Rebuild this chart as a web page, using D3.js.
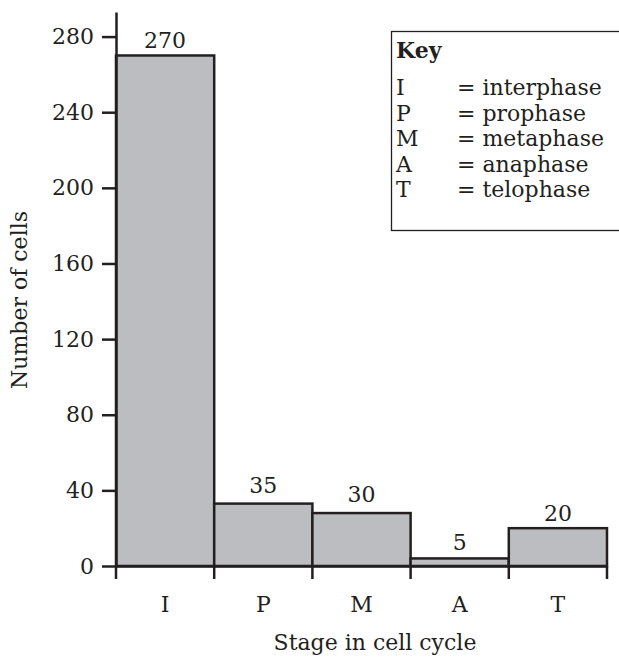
<!DOCTYPE html>
<html>
<head>
<meta charset="utf-8">
<script src="https://cdn.jsdelivr.net/npm/d3@7"></script>
<style>
  html, body { margin: 0; padding: 0; background: #fff; }
  svg { display: block; }
  text { font-family: "DejaVu Serif", "Liberation Serif", serif; fill: #231f20; }
</style>
</head>
<body>
<svg id="chart" width="619" height="660"></svg>
<script>
// ---- data ----
const stages = ["I", "P", "M", "A", "T"];
const countLabels = [270, 35, 30, 5, 20];      // numbers printed above bars
const barHeights = [270, 33, 28, 4, 20];       // bar heights as drawn
const yTicks = [0, 40, 80, 120, 160, 200, 240, 280];
const keyCodes = ["I", "P", "M", "A", "T"];
const keyNames = ["interphase", "prophase", "metaphase", "anaphase", "telophase"];
const xTitle = "Stage in cell cycle";
const yTitle = "Number of cells";

// ---- layout ----
const ink = "#231f20";
const fill = "#bcbdc0";
const fontSize = 22;
const svg = d3.select("#chart");

const x = d3.scaleBand().domain(stages).range([116, 607]).padding(0);
const y = d3.scaleLinear().domain([0, 293]).range([566, 12]);

// bars
svg.append("g").selectAll("rect")
  .data(stages)
  .join("rect")
  .attr("x", d => x(d))
  .attr("y", (d, i) => y(barHeights[i]))
  .attr("width", x.bandwidth())
  .attr("height", (d, i) => y(0) - y(barHeights[i]))
  .attr("fill", fill)
  .attr("stroke", ink)
  .attr("stroke-width", 2.5);

// bar value labels
svg.append("g").selectAll("text")
  .data(stages)
  .join("text")
  .attr("x", d => x(d) + x.bandwidth() / 2)
  .attr("y", (d, i) => y(countLabels[i]) - 7)
  .attr("text-anchor", "middle")
  .attr("font-size", fontSize)
  .text((d, i) => countLabels[i]);

// y axis
const yAxis = d3.axisLeft(y).tickValues(yTicks).tickSize(14).tickPadding(8).tickSizeOuter(0);
const gy = svg.append("g").attr("transform", "translate(116,0)").call(yAxis);
gy.select(".domain").attr("stroke", ink).attr("stroke-width", 2.5);
gy.selectAll(".tick line").attr("stroke", ink).attr("stroke-width", 2.5);
gy.selectAll(".tick text").attr("font-size", fontSize).attr("font-family", "DejaVu Serif").attr("fill", ink);

// x axis (labels at band centres)
const xAxis = d3.axisBottom(x).tickSize(0).tickPadding(30).tickSizeOuter(0);
const gx = svg.append("g").attr("transform", `translate(0,${y(0)})`).call(xAxis);
gx.select(".domain").attr("stroke", ink).attr("stroke-width", 2.5);
gx.selectAll(".tick text").attr("font-size", fontSize).attr("font-family", "DejaVu Serif").attr("fill", ink);

// x boundary ticks
const bounds = stages.map(d => x(d)).concat([x(stages[stages.length - 1]) + x.bandwidth()]);
svg.append("g").selectAll("line")
  .data(bounds)
  .join("line")
  .attr("x1", d => d).attr("x2", d => d)
  .attr("y1", y(0)).attr("y2", y(0) + 13)
  .attr("stroke", ink).attr("stroke-width", 2.5);

// axis titles
svg.append("text")
  .attr("x", 375).attr("y", 650)
  .attr("text-anchor", "middle")
  .attr("font-size", fontSize)
  .text(xTitle);

svg.append("text")
  .attr("transform", "translate(27,300) rotate(-90)")
  .attr("text-anchor", "middle")
  .attr("font-size", fontSize)
  .text(yTitle);

// key
const key = svg.append("g");
key.append("rect")
  .attr("x", 391.5).attr("y", 31.5)
  .attr("width", 260).attr("height", 199)
  .attr("fill", "#fff").attr("stroke", ink).attr("stroke-width", 1.3);
key.append("text")
  .attr("x", 396).attr("y", 58)
  .attr("font-size", fontSize).attr("font-weight", "bold")
  .text("Key");
keyCodes.forEach((c, i) => {
  const by = 95 + i * 25.5;
  key.append("text").attr("x", 396).attr("y", by).attr("font-size", fontSize).text(c);
  key.append("text").attr("x", 457).attr("y", by).attr("font-size", fontSize).text("= " + keyNames[i]);
});
</script>
</body>
</html>
